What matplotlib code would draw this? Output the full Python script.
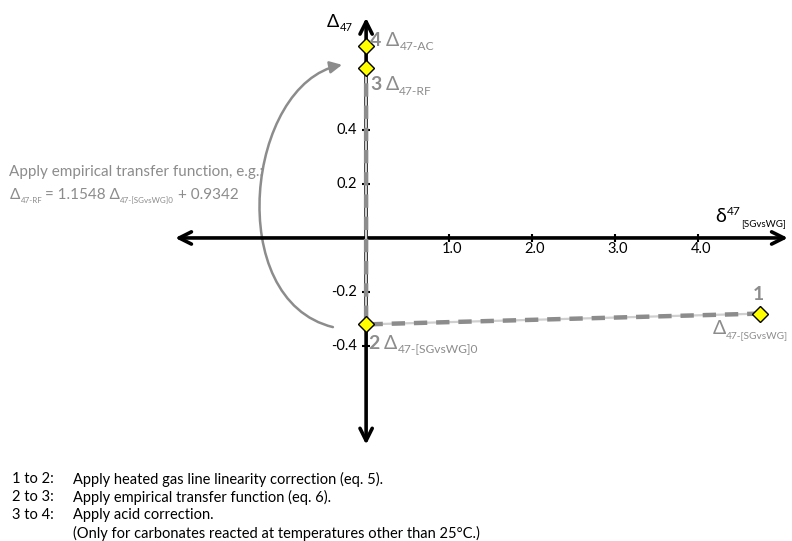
import matplotlib
matplotlib.use("Agg")
from matplotlib import pyplot as plt
from matplotlib.patches import FancyArrowPatch
from matplotlib.path import Path

plt.rcParams['font.family'] = ['Lato', 'DejaVu Sans']

# data
x_ticks = [1.0, 2.0, 3.0, 4.0]
x_tick_labels = ["1.0", "2.0", "3.0", "4.0"]
y_ticks = [-0.4, -0.2, 0.2, 0.4]
y_tick_labels = ["-0.4", "-0.2", "0.2", "0.4"]
step_d47 = [4.75, 0.0, 0.0, 0.0]        # delta47 [SGvsWG] of steps 1..4
step_D47 = [-0.28, -0.32, 0.63, 0.71]   # Delta47 of steps 1..4
step_names = ["1", "2", "3", "4"]
notes = [("1 to 2:", "Apply heated gas line linearity correction (eq. 5)."),
         ("2 to 3:", "Apply empirical transfer function (eq. 6)."),
         ("3 to 4:", "Apply acid correction."),
         ("", "(Only for carbonates reacted at temperatures other than 25\u00b0C.)")]

GRAY = '#8c8c8c'
LIGHT = '#cfcfcf'

fig = plt.figure(figsize=(7.92, 5.41), dpi=100)
ax = fig.add_axes([0, 0, 1, 1])
ax.set_xlim(-4.41, 5.13)
ax.set_ylim(-1.122, 0.881)
ax.axis('off')


def rich(x, y, parts, size, color, bold_first=False, sub_ratio=0.62):
    """draw text made of normal / sub / sup pieces, left to right"""
    anchor = ax.text(x, y, parts[0][0], fontsize=size, color=color, va='baseline', ha='left',
                     fontweight='bold' if bold_first else 'normal', zorder=6)
    prev = anchor
    for s, kind, gap in parts[1:]:
        if kind == 'n':
            xy, va, dy, fs = (1, 0), 'bottom', 0, size
        elif kind == 'sub':
            xy, va, dy, fs = (1, 0), 'baseline', -1.0, size * sub_ratio
        else:
            xy, va, dy, fs = (1, 1), 'top', 1.5, size * 0.62
        prev = ax.annotate(s, xy=xy, xycoords=(prev, anchor), xytext=(gap, dy),
                           textcoords='offset points', va=va, ha='left', fontsize=fs, color=color)
    return anchor


# axes with arrow heads
ax.annotate('', xy=(5.08, 0), xytext=(-2.30, 0),
            arrowprops=dict(arrowstyle='<->', lw=2.6, color='black', mutation_scale=22,
                            shrinkA=0, shrinkB=0))
ax.annotate('', xy=(0, 0.815), xytext=(0, -0.765),
            arrowprops=dict(arrowstyle='<->', lw=2.6, color='black', mutation_scale=22,
                            shrinkA=0, shrinkB=0))

# ticks
ax.plot(x_ticks, [0] * len(x_ticks), ls='none', marker='|', ms=6, mew=1.5, color='black')
ax.plot([0] * len(y_ticks), y_ticks, ls='none', marker='_', ms=6, mew=1.5, color='black')
for xt, lab in zip(x_ticks, x_tick_labels):
    ax.text(xt + 0.03, -0.014, lab, ha='center', va='top', fontsize=10.5)
for yt, lab in zip(y_ticks, y_tick_labels):
    ax.text(-0.11, yt, lab, ha='right', va='center', fontsize=10.5)

# correction path 1 -> 2 -> 3
ax.plot(step_d47[:3], step_D47[:3], color=LIGHT, lw=1.6, zorder=3)
ax.plot(step_d47[:3], step_D47[:3], color=GRAY, lw=3.2, dashes=(3.0, 2.0), zorder=3)
ax.plot(step_d47, step_D47, ls='none', marker='D', ms=8, mfc='#ffff00', mec='black', mew=1.0, zorder=5)

# curved arrow: transfer function, from step 2 round to step 3
x0, y0 = step_d47[1] - 0.40, step_D47[1] - 0.01
x3, y3 = step_d47[2] - 0.29, step_D47[2] + 0.011
curve = Path([(x0, y0), (x0 - 1.33, y0 + 0.10), (x3 - 1.15, y3 - 0.07), (x3, y3)],
             [Path.MOVETO, Path.CURVE4, Path.CURVE4, Path.CURVE4])
ax.add_patch(FancyArrowPatch(path=curve, arrowstyle='-|>', lw=1.8, color=GRAY,
                             mutation_scale=18, shrinkA=0, shrinkB=0))

# point labels
rich(-0.47, 0.781, [("\u0394", 'n', 0), ("47", 'sub', 0.3)], 13, 'black')
rich(0.05, 0.712, [(step_names[3], 'n', 0), ("\u0394", 'n', 3), ("47-AC", 'sub', 0.3)], 14, GRAY, True)
rich(0.05, 0.547, [(step_names[2], 'n', 0), ("\u0394", 'n', 3), ("47-RF", 'sub', 0.3)], 14, GRAY, True)
rich(0.03, -0.41, [(step_names[1], 'n', 0), ("\u0394", 'n', 3), ("47-[SGvsWG]0", 'sub', 0.3)], 14, GRAY, True)
ax.text(4.72, -0.211, step_names[0], ha='center', va='center', fontsize=14, color=GRAY, fontweight='bold')
rich(4.17, -0.355, [("\u0394", 'n', 0), ("47-[SGvsWG]", 'sub', 0.2)], 14, GRAY, sub_ratio=0.52)
rich(4.21, 0.059, [("\u03b4", 'n', 0), ("47", 'sup', 0.3), ("[SGvsWG]", 'sub', 0.0)], 14, 'black',
     sub_ratio=0.5)

# transfer function note
ax.text(-4.30, 0.244, "Apply empirical transfer function, e.g.:", fontsize=11, color=GRAY,
        va='center', ha='left')
rich(-4.29, 0.145, [("\u0394", 'n', 0), ("47-RF", 'sub', 0.2), ("= 1.1548 \u0394", 'n', 2.0),
                    ("47-[SGvsWG]0", 'sub', 0.2), ("+ 0.9342", 'n', 2.5)], 11, GRAY, sub_ratio=0.52)

# step notes
for i, (a, b) in enumerate(notes):
    yy = 1 - (479 + 18 * i) / 541
    fig.text(12 / 792, yy, a, fontsize=10.5, va='center', ha='left')
    fig.text(73 / 792, yy, b, fontsize=10.5, va='center', ha='left')

fig.savefig("out.png", dpi=100)
